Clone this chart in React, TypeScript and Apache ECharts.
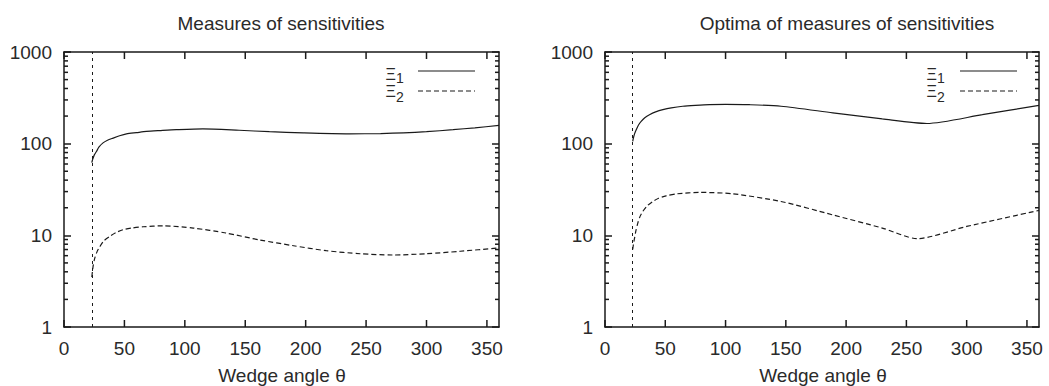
import React, { useEffect, useRef } from "react";
import * as echarts from "echarts";

// ---- data ----
const CUTOFF_ANGLE = 23;
const X_MIN = 0;
const X_MAX = 360;
const X_INTERVAL = 50;
const X_MAJOR_TICKS = [0, 50, 100, 150, 200, 250, 300, 350];
const Y_MIN = 1;
const Y_MAX = 1000;
const Y_MINOR_TICKS = [2, 3, 4, 5, 6, 7, 8, 9, 20, 30, 40, 50, 60, 70, 80, 90, 200, 300, 400, 500, 600, 700, 800, 900];

const TITLES = ["Measures of sensitivities", "Optima of measures of sensitivities"];
const X_LABEL = "Wedge angle θ";
const LEGEND_NAMES = ["Ξ", "Ξ"];
const LEGEND_SUBS = ["1", "2"];

// Left panel: measures of sensitivities
const L_XI1_THETA = [23, 23.5, 24.2, 25, 26.8, 29, 32.3, 36, 40.6, 46, 51.7, 60, 68.2, 80, 93, 115, 145, 170, 198, 236, 262, 281, 300, 322, 340, 360];
const L_XI1 = [62, 66, 70, 75, 82, 92, 102, 109, 115, 122, 128, 132, 136, 139, 142, 145, 140, 135, 131, 128, 129, 131, 135, 142, 149, 158];
const L_XI2_THETA = [23, 23.5, 24.2, 25.4, 27.3, 29.6, 33, 37.8, 43, 48.8, 56, 65.4, 82, 107, 134, 162, 190, 217, 245, 272, 300, 328, 360];
const L_XI2 = [3.5, 4.0, 4.7, 5.6, 6.6, 7.5, 8.7, 9.7, 10.7, 11.5, 12.0, 12.4, 12.7, 12.0, 10.6, 8.9, 7.7, 6.8, 6.3, 6.1, 6.3, 6.7, 7.3];

// Right panel: optima of measures of sensitivities
const R_XI1_THETA = [23, 23.6, 24.5, 25.9, 27.8, 30, 33, 36.9, 42, 48, 55, 64.5, 75, 86.7, 100, 119.8, 146, 189, 230, 267, 313, 360];
const R_XI1 = [106, 116, 128, 142, 160, 175, 192, 207, 222, 235, 246, 256, 262, 267, 268, 266, 256, 217, 186, 166, 207, 262];
const R_XI2_THETA = [23, 23.6, 24.5, 25.7, 27.2, 29, 31.3, 35, 39.6, 44.5, 50.7, 60, 78.4, 106, 146, 189, 230, 259, 300, 360];
const R_XI2 = [7, 8, 9.3, 11.3, 13.6, 16, 18.2, 21, 23.4, 25.4, 27, 28.4, 29.4, 28.4, 23.4, 16.7, 12, 9.2, 12.5, 18.7];

// ---- style ----
const INK = "#1a1a1a";
const TEXT = "#2a2a2a";
const FONT = "'Liberation Sans', Arial, Helvetica, sans-serif";
const FS = 19;
const FRAME_W = 1.5;
const CURVE_W = 1.2;

const pairs = (xs: number[], ys: number[]) => xs.map((x, i) => [x, ys[i]]);

export default function App() {
  const ref = useRef<HTMLDivElement | null>(null);

  useEffect(() => {
    if (!ref.current) return;
    const chart = echarts.init(ref.current, undefined, { renderer: "svg" });

    const grids = [
      { left: 64, top: 52, width: 435, height: 275 },
      { left: 605, top: 52, width: 434, height: 275 },
    ];

    const xAxes: any[] = [];
    const yAxes: any[] = [];
    grids.forEach((_, gi) => {
      xAxes.push({
        type: "value", gridIndex: gi, position: "bottom", min: X_MIN, max: X_MAX, interval: X_INTERVAL,
        axisLine: { show: true, onZero: false, lineStyle: { color: INK, width: FRAME_W } },
        axisTick: { show: false },
        axisLabel: { show: true, showMaxLabel: false, color: TEXT, fontFamily: FONT, fontSize: FS, margin: 12 },
        splitLine: { show: false },
      });
      xAxes.push({
        type: "value", gridIndex: gi, position: "top", min: X_MIN, max: X_MAX, interval: X_INTERVAL,
        axisLine: { show: true, onZero: false, lineStyle: { color: INK, width: FRAME_W } },
        axisTick: { show: false },
        axisLabel: { show: false },
        splitLine: { show: false },
      });
      yAxes.push({
        type: "log", logBase: 10, gridIndex: gi, position: "left", min: Y_MIN, max: Y_MAX,
        axisLine: { show: true, onZero: false, lineStyle: { color: INK, width: FRAME_W } },
        axisTick: { show: true, inside: true, length: 7, lineStyle: { color: INK, width: FRAME_W } },
        axisLabel: {
          show: true, color: TEXT, fontFamily: FONT, fontSize: FS, margin: 12,
          formatter: (v: number) => String(Math.round(v)),
        },
        splitLine: { show: false },
      });
      yAxes.push({
        type: "log", logBase: 10, gridIndex: gi, position: "right", min: Y_MIN, max: Y_MAX,
        axisLine: { show: true, onZero: false, lineStyle: { color: INK, width: FRAME_W } },
        axisTick: { show: true, inside: true, length: 7, lineStyle: { color: INK, width: FRAME_W } },
        axisLabel: { show: false },
        splitLine: { show: false },
      });
    });

    const lineSeries = (gi: number, data: number[][], dashed: boolean, withCutoff: boolean) => ({
      type: "line",
      xAxisIndex: gi * 2,
      yAxisIndex: gi * 2,
      data,
      showSymbol: false,
      symbol: "none",
      smooth: 0.25,
      lineStyle: { color: INK, width: CURVE_W, type: dashed ? [5, 3] : "solid" },
      silent: true,
      markLine: withCutoff
        ? {
            silent: true,
            symbol: "none",
            label: { show: false },
            lineStyle: { color: INK, width: 1, type: [3, 4] },
            data: [{ xAxis: CUTOFF_ANGLE }],
          }
        : undefined,
    });

    const legend = (textRight: number, lineStart: number, lineEnd: number) => {
      const rows = [
        { lineY: 71, xiY: 74.5, subY: 78, dashed: false },
        { lineY: 91, xiY: 91.5, subY: 97, dashed: true },
      ];
      const els: any[] = [];
      rows.forEach((r, i) => {
        els.push({
          type: "text", x: textRight - 10, y: r.xiY,
          style: { text: LEGEND_NAMES[i], fill: TEXT, font: `16px ${FONT}`, align: "right", verticalAlign: "middle" },
        });
        els.push({
          type: "text", x: textRight - 10, y: r.subY,
          style: { text: LEGEND_SUBS[i], fill: TEXT, font: `14px ${FONT}`, align: "left", verticalAlign: "middle" },
        });
        els.push({
          type: "line",
          shape: { x1: lineStart, y1: r.lineY, x2: lineEnd, y2: r.lineY },
          style: { stroke: INK, lineWidth: CURVE_W, lineDash: r.dashed ? [5, 3] : null },
        });
      });
      return els;
    };

    const texts = (x: number, y: number, t: string) => ({
      type: "text", x, y,
      style: { text: t, fill: TEXT, font: `${FS}px ${FONT}`, align: "center", verticalAlign: "middle" },
    });

    const baseGraphic: any[] = [
      texts(281, 23, TITLES[0]),
      texts(847, 23, TITLES[1]),
      texts(282, 375, X_LABEL),
      texts(823, 375, X_LABEL),
      ...legend(406, 418, 475),
      ...legend(947, 960, 1017),
    ];

    chart.setOption({
      animation: false,
      backgroundColor: "#ffffff",
      grid: grids.map((g) => ({ ...g, containLabel: false })),
      xAxis: xAxes,
      yAxis: yAxes,
      series: [
        lineSeries(0, pairs(L_XI1_THETA, L_XI1), false, true),
        lineSeries(0, pairs(L_XI2_THETA, L_XI2), true, false),
        lineSeries(1, pairs(R_XI1_THETA, R_XI1), false, true),
        lineSeries(1, pairs(R_XI2_THETA, R_XI2), true, false),
      ],
      graphic: baseGraphic,
    });

    // frame ticks placed through the axis scales: minor log ticks (2..9 per decade)
    // on both vertical sides, and major x ticks on bottom and top
    const tickEls: any[] = [];
    const seg = (x1: number, y1: number, x2: number, y2: number) => ({
      type: "line", silent: true, z: 100,
      shape: { x1, y1, x2, y2 },
      style: { stroke: INK, lineWidth: FRAME_W },
    });
    grids.forEach((_, gi) => {
      Y_MINOR_TICKS.forEach((v) => {
        const l = chart.convertToPixel({ gridIndex: gi } as any, [X_MIN, v]) as any;
        const r = chart.convertToPixel({ gridIndex: gi } as any, [X_MAX, v]) as any;
        if (!l || !r) return;
        tickEls.push(seg(l[0], l[1], l[0] + 4, l[1]));
        tickEls.push(seg(r[0] - 4, r[1], r[0], r[1]));
      });
      X_MAJOR_TICKS.forEach((t) => {
        const b = chart.convertToPixel({ gridIndex: gi } as any, [t, Y_MIN]) as any;
        const tp = chart.convertToPixel({ gridIndex: gi } as any, [t, Y_MAX]) as any;
        if (!b || !tp) return;
        tickEls.push(seg(b[0], b[1], b[0], b[1] - 7));
        tickEls.push(seg(tp[0], tp[1], tp[0], tp[1] + 7));
      });
    });
    chart.setOption({ graphic: [...baseGraphic, ...tickEls] });

    return () => chart.dispose();
  }, []);

  return (
    <div
      ref={ref}
      style={{ position: "fixed", left: 0, top: 0, width: 1049, height: 386, background: "#fff" }}
    />
  );
}
